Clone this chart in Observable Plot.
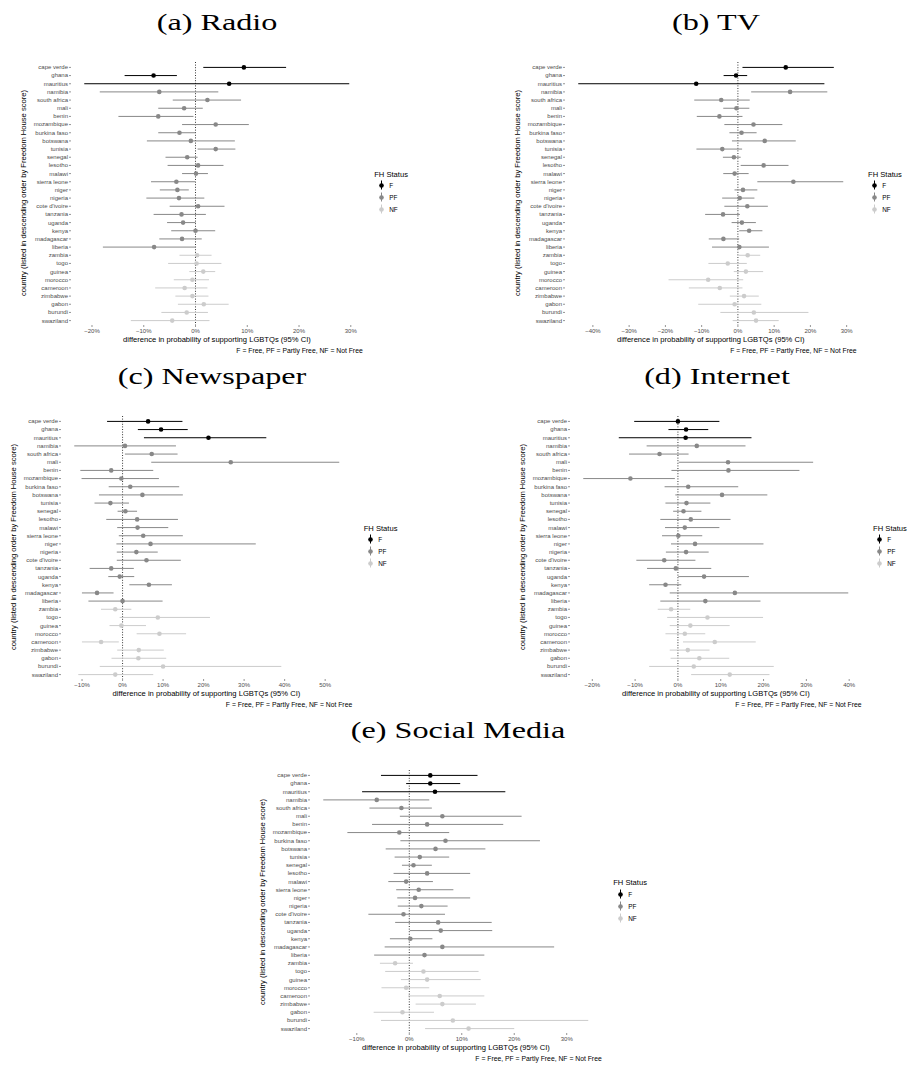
<!DOCTYPE html>
<html><head><meta charset="utf-8">
<script src="https://cdn.jsdelivr.net/npm/d3@7"></script>
<script src="https://cdn.jsdelivr.net/npm/@observablehq/plot@0.6"></script>
<style>
body{margin:0;background:#fff;}
#fig{position:relative;width:915px;height:1067px;overflow:hidden;font-family:"Liberation Sans",Arial,sans-serif;background:#fff;}
.t{position:absolute;white-space:nowrap;line-height:1;}
.p{position:absolute;}
</style></head><body><div id="fig"></div>
<script>
// ---------- data ----------
const countries = ["cape verde","ghana","mauritius","namibia","south africa","mali","benin","mozambique","burkina faso","botswana","tunisia","senegal","lesotho","malawi","sierra leone","niger","nigeria","cote d'ivoire","tanzania","uganda","kenya","madagascar","liberia","zambia","togo","guinea","morocco","cameroon","zimbabwe","gabon","burundi","swaziland"];
const statusOf = ["F","F","F","PF","PF","PF","PF","PF","PF","PF","PF","PF","PF","PF","PF","PF","PF","PF","PF","PF","PF","PF","PF","NF","NF","NF","NF","NF","NF","NF","NF","NF"];
const statuses = ["F","PF","NF"];
const statusShades = ["#000000","#888888","#cccccc"];

const radioEst = [9.35,-8.1,6.5,-7.0,2.3,-2.2,-7.2,3.9,-3.1,-0.9,3.9,-1.6,0.5,0.1,-3.7,-3.5,-3.2,0.5,-2.7,-2.4,0.0,-2.6,-8.0,0.3,0.2,1.5,-0.6,-2.1,-0.6,1.6,-1.7,-4.5];
const radioLo  = [1.6,-13.6,-21.4,-18.4,-4.3,-7.1,-14.8,-2.5,-7.1,-9.3,0.5,-5.7,-5.3,-2.5,-8.5,-6.8,-9.4,-4.9,-8.0,-5.4,-4.6,-6.9,-17.8,-3.0,-5.2,-1.1,-4.1,-7.7,-3.8,-3.3,-6.5,-12.4];
const radioHi  = [17.6,-3.5,29.8,4.5,8.9,1.5,-0.3,10.4,0.0,7.7,7.8,0.5,5.5,2.5,0.0,-1.2,1.8,5.7,2.1,0.1,3.9,1.3,0.2,3.2,5.1,3.9,2.7,2.4,2.6,6.5,2.5,2.8];

const tvEst = [13.2,-0.5,-11.5,14.4,-4.6,-0.4,-5.1,4.3,1.0,7.4,-4.3,-1.1,7.1,-0.9,15.3,1.4,0.5,2.6,-4.1,1.1,3.1,-4.0,0.4,2.7,-2.8,2.2,-8.2,-5.0,1.7,-0.9,4.4,5.0];
const tvLo  = [1.4,-3.8,-43.9,3.8,-11.9,-3.9,-11.2,-3.6,-2.2,-1.5,-11.3,-4.0,0.9,-3.9,5.5,-0.8,-4.2,-3.6,-8.9,-1.6,0.5,-7.9,-7.0,0.3,-8.0,-1.0,-19.0,-13.4,-2.1,-10.8,-4.7,-1.3];
const tvHi  = [26.6,2.7,24.0,24.8,3.4,3.3,1.4,12.4,5.3,16.1,1.3,0.9,14.1,3.1,29.2,5.5,4.7,8.4,0.7,5.1,6.9,0.5,8.7,6.3,2.6,7.1,1.6,1.4,5.9,6.6,19.6,11.4];

const paperEst = [6.3,9.5,21.2,0.6,7.2,26.7,-2.8,-0.3,1.9,4.9,-3.0,0.7,3.6,3.7,5.1,6.9,3.4,5.9,-2.8,-0.7,6.5,-6.3,0.0,-1.8,8.7,-0.3,9.1,-5.3,4.0,3.9,10.0,-1.8];
const paperLo  = [-3.7,3.9,5.4,-11.8,0.7,7.2,-10.3,-10.0,-3.3,-5.7,-6.8,-1.1,-3.9,-1.2,-0.8,-1.4,-1.3,-1.3,-8.0,-3.4,1.8,-9.9,-8.3,-5.2,-0.6,-3.1,3.6,-9.9,-1.2,-2.6,-5.5,-10.8];
const paperHi  = [14.9,16.2,35.6,13.3,13.7,53.6,7.7,9.1,14.1,15.0,1.7,3.7,13.8,11.4,15.0,33.0,8.8,14.5,2.9,3.0,12.3,-2.1,10.0,2.3,21.7,5.9,15.8,-0.8,10.3,10.9,39.3,7.7];

const netEst = [0.0,1.9,1.8,4.4,-4.3,11.7,11.8,-11.1,2.4,10.3,2.0,1.3,3.0,1.6,0.1,4.0,1.9,-3.2,-0.5,6.1,-2.9,13.3,6.4,-1.6,6.9,2.9,1.6,8.6,2.3,5.0,3.7,12.1];
const netLo  = [-10.1,-2.1,-13.7,-7.2,-11.3,0.3,-1.4,-22.0,-3.0,-0.5,-2.8,-1.0,-4.0,-2.9,-3.6,-1.5,-2.7,-9.6,-7.1,0.2,-6.6,-1.8,-4.0,-4.6,-2.4,-1.8,-2.8,1.3,-1.8,-1.6,-6.6,3.2];
const netHi  = [9.8,7.2,17.3,15.9,2.6,31.7,28.5,-0.6,14.2,21.0,7.7,5.6,12.4,9.8,5.8,20.1,7.3,4.2,7.9,16.7,0.9,39.9,19.4,3.0,20.0,12.2,6.5,18.3,7.5,12.1,22.5,21.5];

const socialEst = [4.0,4.0,4.9,-6.2,-1.5,6.3,3.4,-1.9,6.9,5.0,2.0,0.8,3.4,-0.6,1.8,1.1,2.3,-1.1,5.5,6.0,0.2,6.3,2.9,-2.7,2.7,3.4,-0.6,5.8,6.3,-1.3,8.3,11.3];
const socialLo  = [-5.3,-0.5,-8.9,-16.3,-7.5,-1.7,-7.0,-11.7,-1.6,-4.4,-2.7,-1.3,-2.9,-3.9,-2.4,-2.2,-2.1,-7.7,-2.6,0.2,-3.6,-4.6,-6.6,-5.5,-4.5,-1.5,-5.2,-0.1,1.3,-6.7,-5.3,3.1];
const socialHi  = [13.1,9.8,18.4,3.9,4.4,21.5,18.0,7.7,25.0,14.6,7.7,4.4,11.7,4.6,8.5,11.7,7.4,6.9,15.8,15.9,4.5,27.7,14.4,0.8,13.3,13.7,3.9,14.4,12.8,4.8,34.2,20.1];

const radioTicks = [-20,-10,0,10,20,30];
const tvTicks = [-40,-30,-20,-10,0,10,20,30];
const paperTicks = [-10,0,10,20,30,40,50];
const netTicks = [-20,-10,0,10,20,30,40];
const socialTicks = [-10,0,10,20,30];

const panelTitles = ["(a) Radio","(b) TV","(c) Newspaper","(d) Internet","(e) Social Media"];
const xTitle = "difference in probability of supporting LGBTQs (95% CI)";
const yTitle = "country (listed in descending order by Freedom House score)";
const captionText = "F = Free, PF = Partly Free, NF = Not Free";
const legendTitle = "FH Status";

// ---------- layout ----------
const FW = 291.5, FH = 263;
const layout = [
  {left: 71.2,  top: 61.8,  titleX: 217},
  {left: 565.0, top: 61.8,  titleX: 715.7},
  {left: 60.7,  top: 415.8, titleX: 211.5},
  {left: 570.1, top: 415.8, titleX: 717},
  {left: 310.2, top: 770.0, titleX: 458}
];
const panels = [
  {est: radioEst, lo: radioLo, hi: radioHi, ticks: radioTicks},
  {est: tvEst, lo: tvLo, hi: tvHi, ticks: tvTicks},
  {est: paperEst, lo: paperLo, hi: paperHi, ticks: paperTicks},
  {est: netEst, lo: netLo, hi: netHi, ticks: netTicks},
  {est: socialEst, lo: socialLo, hi: socialHi, ticks: socialTicks}
];

const fig = document.getElementById("fig");
const SANS = '"Liberation Sans", Arial, sans-serif';
const SERIF = '"Liberation Serif", "Times New Roman", serif';
const pct = d => (d < 0 ? "\u2212" : "") + Math.abs(d) + "%";

function txt(s, x, y, {size = 7.5, family = SANS, color = "#000", ax = 0.5, ay = 0.5, rot = 0, sx = 1} = {}) {
  const d = document.createElement("div");
  d.className = "t";
  d.textContent = s;
  d.style.left = x + "px";
  d.style.top = y + "px";
  d.style.fontSize = size + "px";
  d.style.fontFamily = family;
  d.style.color = color;
  d.style.transform = `translate(${-ax * 100}%, ${-ay * 100}%)` + (rot ? ` rotate(${rot}deg)` : "") + (sx !== 1 ? ` scaleX(${sx})` : "");
  fig.appendChild(d);
  return d;
}

function place(node, x, y) {
  const d = document.createElement("div");
  d.className = "p";
  d.style.left = x + "px";
  d.style.top = y + "px";
  d.appendChild(node);
  fig.appendChild(d);
}

panels.forEach((p, k) => {
  const L = layout[k];
  const data = countries.map((c, i) => ({country: c, status: statusOf[i], est: p.est[i], lo: p.lo[i], hi: p.hi[i]}));
  const mn = d3.min(p.lo), mx = d3.max(p.hi), pad = 0.05 * (mx - mn);
  const ML = 70, MR = 2, MT = 2, MB = 14;
  const chart = Plot.plot({
    width: ML + FW + MR, height: MT + FH + MB,
    marginLeft: ML, marginRight: MR, marginTop: MT, marginBottom: MB,
    style: {fontFamily: SANS, fontSize: "6px", color: "#4d4d4d", background: "transparent", overflow: "visible", maxWidth: "none"},
    x: {domain: [mn - pad, mx + pad]},
    y: {type: "point", domain: countries, padding: 0.6, round: false},
    color: {domain: statuses, range: statusShades},
    marks: [
      Plot.axisX({ticks: p.ticks, tickFormat: pct, tickSize: 2, tickPadding: 1.5, label: null, strokeWidth: 0.6}),
      Plot.axisY({tickSize: 2, tickPadding: 1.5, label: null, strokeWidth: 0.6}),
      Plot.ruleX([0], {stroke: "#000", strokeWidth: 0.8, strokeDasharray: "1,1.6"}),
      Plot.ruleY(data, {y: "country", x1: "lo", x2: "hi", stroke: "status", strokeWidth: 1}),
      Plot.dot(data, {x: "est", y: "country", fill: "status", r: 2.3})
    ]
  });
  place(chart, L.left - ML, L.top - MT);

  const right = L.left + FW, cx = L.left + FW / 2, cy = L.top + FH / 2, bottom = L.top + FH;
  // titles and axis titles
  txt(panelTitles[k], L.titleX, L.top - 38.8, {size: 23.5, family: SERIF, sx: 1.37});
  txt(xTitle, cx, bottom + 14.8, {size: 7.6});
  txt(captionText, right, bottom + 25.7, {size: 6.8, ax: 1});
  txt(yTitle, L.left - 47, cy, {size: 7.6, rot: -90});

  // legend
  txt(legendTitle, right + 11.5, cy - 18.8, {size: 7.6, ax: 0});
  const leg = Plot.plot({
    width: 30, height: 36, marginLeft: 0, marginRight: 20, marginTop: 0, marginBottom: 0,
    style: {fontFamily: SANS, fontSize: "6.4px", color: "#000", background: "transparent", overflow: "visible", maxWidth: "none"},
    x: {domain: [0, 1], axis: null},
    y: {type: "band", domain: statuses, padding: 0, round: false},
    color: {domain: statuses, range: statusShades},
    marks: [
      Plot.axisY({anchor: "right", tickSize: 0, tickPadding: 2.7, label: null}),
      Plot.tickX(statuses, {x: 0.5, y: d => d, stroke: d => d, insetTop: 1.5, insetBottom: 1.5, strokeWidth: 1}),
      Plot.dot(statuses, {x: 0.5, y: d => d, fill: d => d, r: 2.3})
    ]
  });
  place(leg, right + 17.8 - 5, cy - 14);
});
</script>
</body></html>
